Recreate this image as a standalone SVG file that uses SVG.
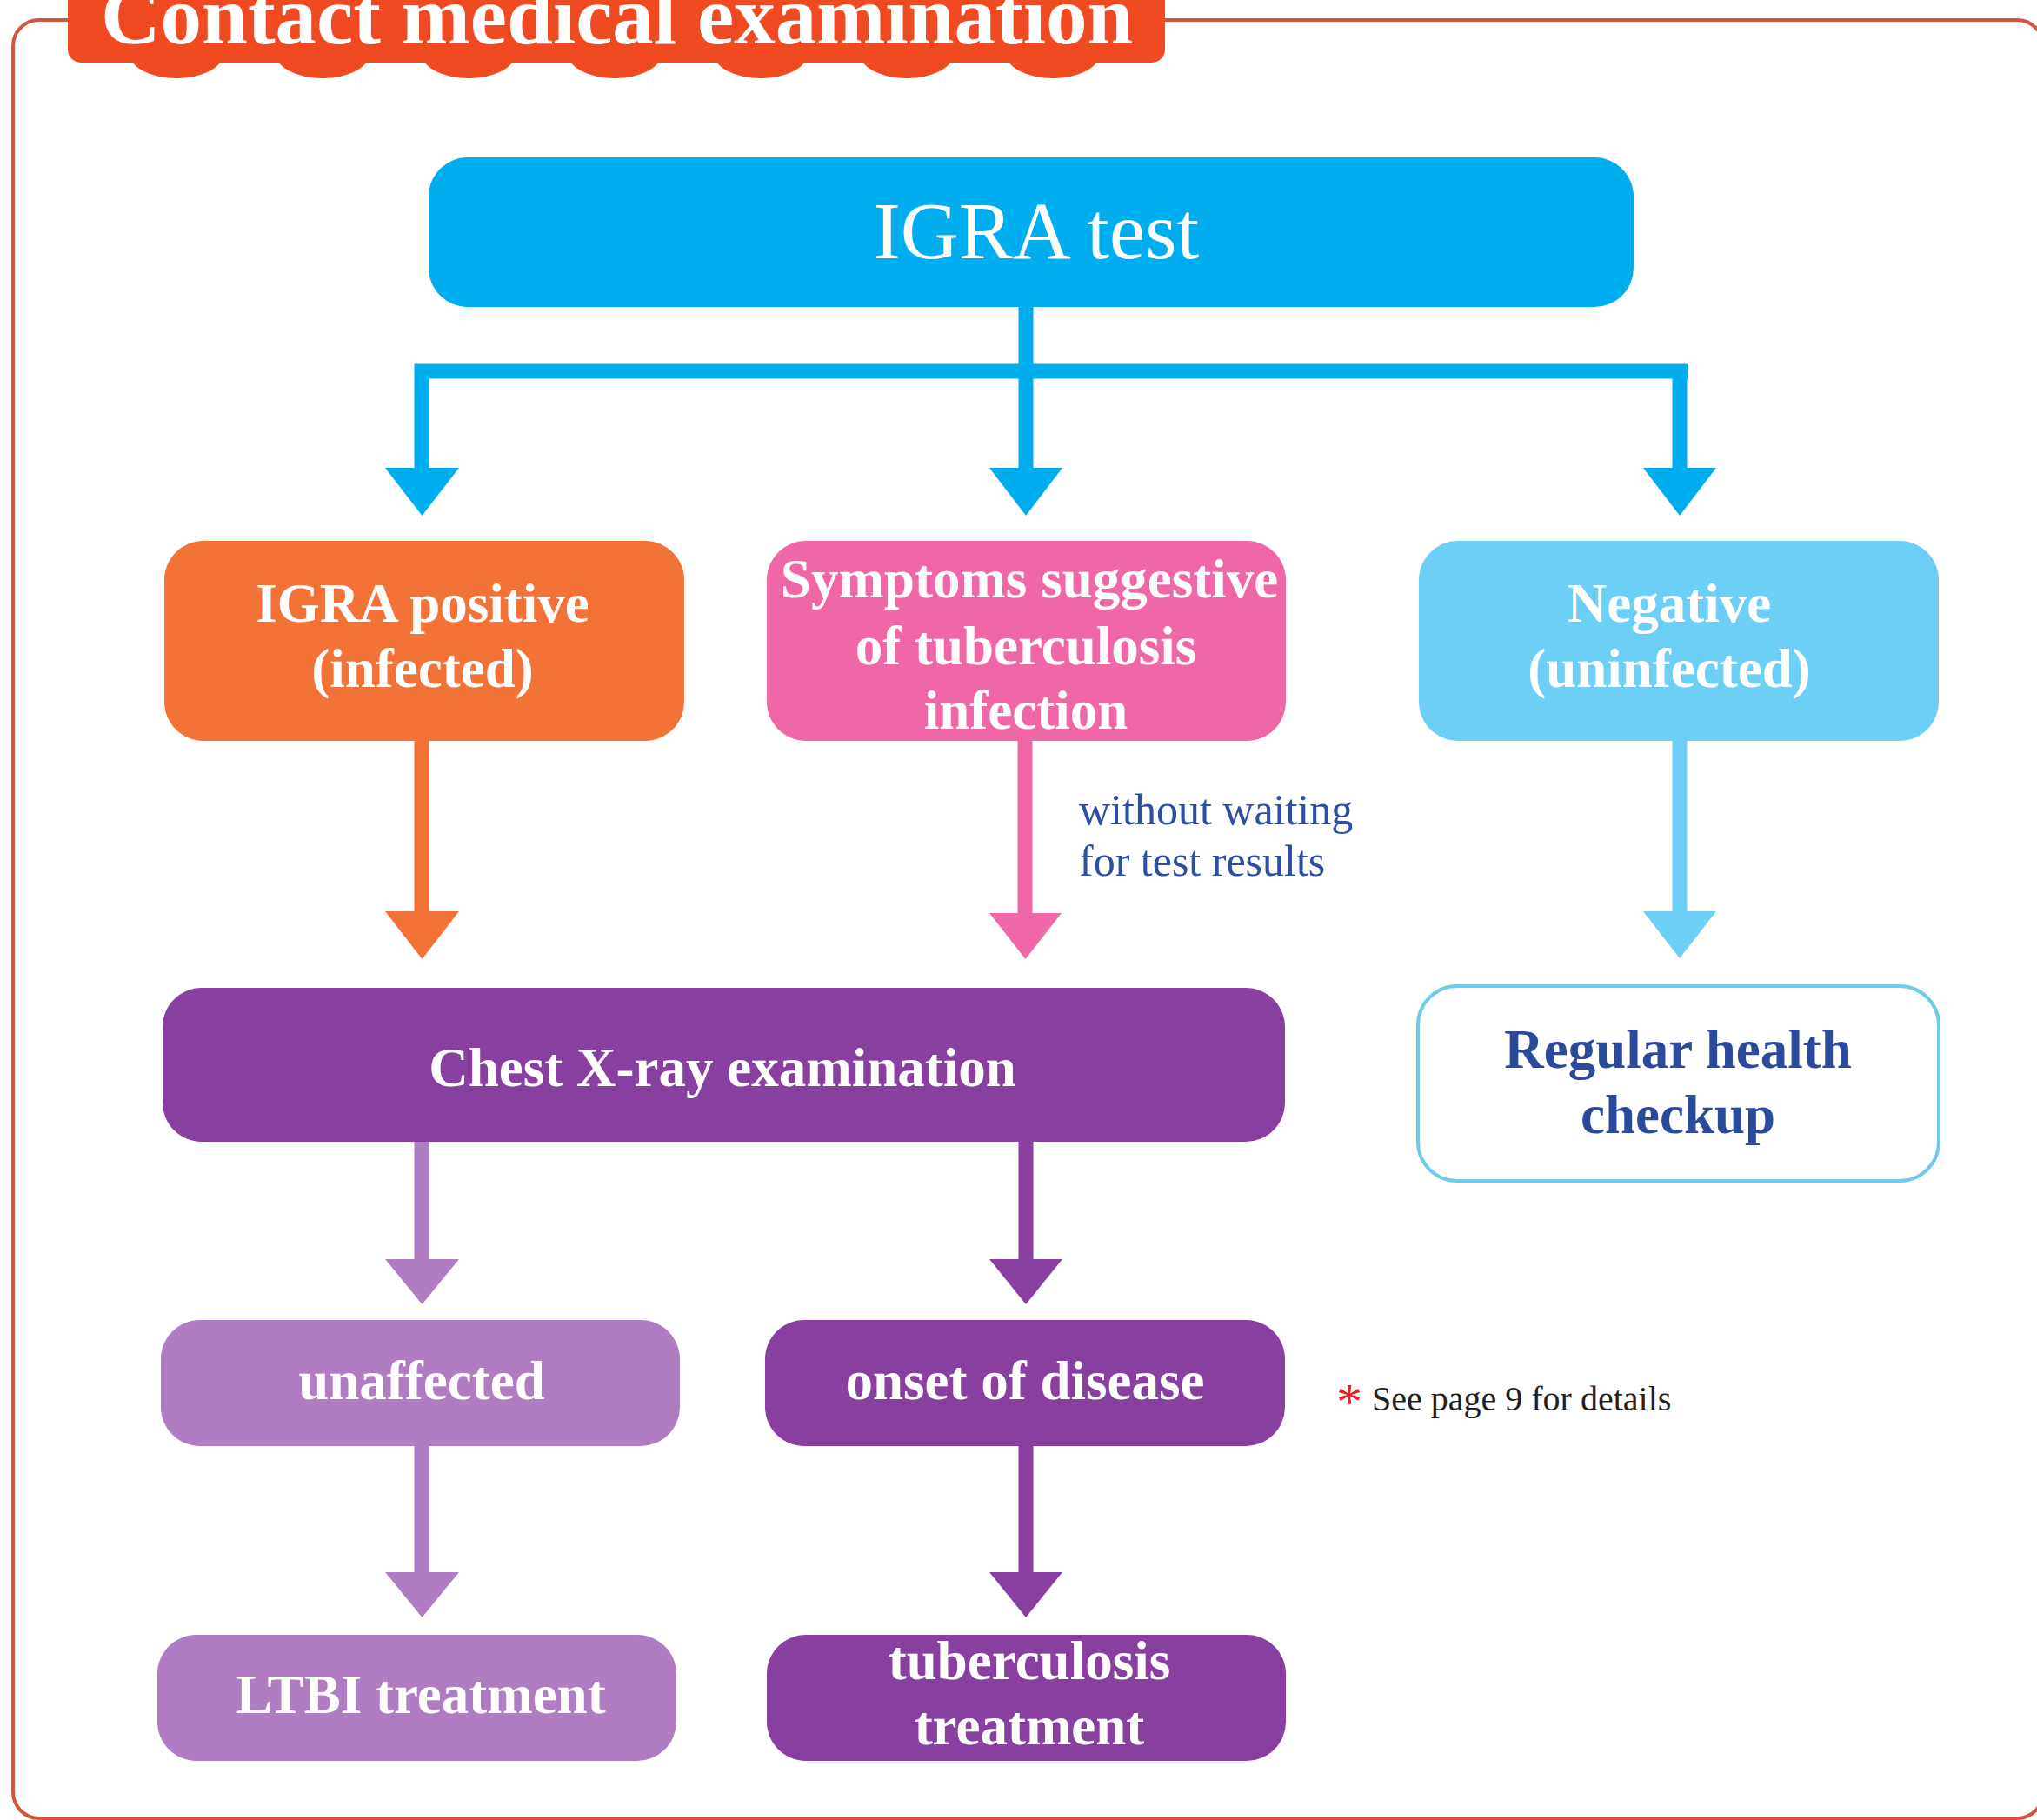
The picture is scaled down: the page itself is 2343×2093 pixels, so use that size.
<svg xmlns="http://www.w3.org/2000/svg" width="2343" height="2093" viewBox="0 0 2343 2093">
<style>
.t{font-family:"Liberation Serif","Times New Roman",serif;}
.b{font-weight:bold;fill:#ffffff;font-size:63px;text-anchor:middle;}
.ln{fill:none;stroke-width:17;}
.blue{fill:#00aeef;}
.orange{fill:#f37238;}
.pink{fill:#f067a7;}
.lblue{fill:#6dcff6;}
.purple{fill:#883f9f;}
.lpurple{fill:#b07cc4;}
</style>
<rect width="2343" height="2093" fill="#ffffff"/>
<g id="frame">
<rect x="15" y="23" width="2335" height="2068" rx="30" ry="30" fill="none" stroke="#d4543c" stroke-width="4"/>
</g>
<g id="banner">
<g fill="#f04a23">
<ellipse cx="203" cy="60" rx="55" ry="30"/>
<ellipse cx="371" cy="60" rx="55" ry="30"/>
<ellipse cx="539" cy="60" rx="55" ry="30"/>
<ellipse cx="707" cy="60" rx="55" ry="30"/>
<ellipse cx="875" cy="60" rx="55" ry="30"/>
<ellipse cx="1043" cy="60" rx="55" ry="30"/>
<ellipse cx="1211" cy="60" rx="55" ry="30"/>
<rect x="78" y="-40" width="1262" height="112" rx="15" ry="15"/>
</g>
<text class="t" x="116" y="50" font-size="95" font-weight="bold" fill="#ffffff">Contact medical examination</text>
</g>
<g id="connectors">
<path class="ln" stroke="#00aeef" d="M1180 350 V427 M477 427 H1941 M485 418.5 V540 M1180 427 V540 M1932 418.5 V540"/>
<polygon class="blue" points="443,538 528,538 485.5,593"/>
<polygon class="blue" points="1138,538 1222,538 1180,593"/>
<polygon class="blue" points="1890,538 1974,538 1932,593"/>
<path class="ln" stroke="#f37238" d="M485 850 V1050"/>
<polygon class="orange" points="443,1048 528,1048 485.5,1103"/>
<path class="ln" stroke="#f067a7" d="M1179 850 V1052"/>
<polygon class="pink" points="1138,1050 1221,1050 1179.5,1103"/>
<path class="ln" stroke="#6dcff6" d="M1932 850 V1050"/>
<polygon class="lblue" points="1890,1048 1974,1048 1932,1102"/>
<path class="ln" stroke="#b07cc4" d="M485 1310 V1450"/>
<polygon class="lpurple" points="443,1448 528,1448 485.5,1500"/>
<path class="ln" stroke="#883f9f" d="M1180 1310 V1450"/>
<polygon class="purple" points="1138,1448 1222,1448 1180,1500"/>
<path class="ln" stroke="#b07cc4" d="M485 1660 V1810"/>
<polygon class="lpurple" points="443,1808 528,1808 485.5,1860"/>
<path class="ln" stroke="#883f9f" d="M1180 1660 V1810"/>
<polygon class="purple" points="1138,1808 1222,1808 1180,1860"/>
<text class="t" x="1241" y="948" font-size="50" fill="#2c4ea3">without waiting</text>
<text class="t" x="1241" y="1007" font-size="50" fill="#2c4ea3">for test results</text>
</g>
<g id="igra-test">
<rect class="blue" x="493" y="181" width="1386" height="172" rx="45" ry="45"/>
<text class="t" x="1192" y="297" font-size="93" fill="#ffffff" text-anchor="middle">IGRA test</text>
</g>
<g id="igra-positive">
<rect class="orange" x="189" y="622" width="598" height="230" rx="45" ry="45"/>
<text class="t b" x="486" y="715">IGRA positive</text>
<text class="t b" x="486" y="790">(infected)</text>
</g>
<g id="symptoms">
<rect class="pink" x="882" y="622" width="597" height="230" rx="45" ry="45"/>
<text class="t b" x="1184" y="687">Symptoms suggestive</text>
<text class="t b" x="1180" y="764">of tuberculosis</text>
<text class="t b" x="1180" y="838">infection</text>
</g>
<g id="negative">
<rect class="lblue" x="1632" y="622" width="598" height="230" rx="45" ry="45"/>
<text class="t b" x="1920" y="715">Negative</text>
<text class="t b" x="1920" y="790">(uninfected)</text>
</g>
<g id="chest-xray">
<rect class="purple" x="187" y="1136" width="1291" height="177" rx="45" ry="45"/>
<text class="t b" x="831" y="1249">Chest X-ray examination</text>
</g>
<g id="regular-checkup">
<rect x="1631" y="1134" width="599" height="224" rx="45" ry="45" fill="#ffffff" stroke="#6dcbee" stroke-width="4"/>
<text class="t b" x="1930" y="1228" fill="#2b4a9b" style="fill:#2b4a9b">Regular health</text>
<text class="t b" x="1930" y="1303" style="fill:#2b4a9b">checkup</text>
</g>
<g id="unaffected">
<rect class="lpurple" x="185" y="1518" width="597" height="145" rx="45" ry="45"/>
<text class="t b" x="485" y="1609">unaffected</text>
</g>
<g id="onset">
<rect class="purple" x="880" y="1518" width="598" height="145" rx="45" ry="45"/>
<text class="t b" x="1179" y="1609">onset of disease</text>
</g>
<g id="ltbi-treatment">
<rect class="lpurple" x="181" y="1880" width="597" height="145" rx="45" ry="45"/>
<text class="t b" x="484" y="1970">LTBI treatment</text>
</g>
<g id="tb-treatment">
<rect class="purple" x="882" y="1880" width="597" height="145" rx="45" ry="45"/>
<text class="t b" x="1184" y="1931">tuberculosis</text>
<text class="t b" x="1184" y="2006">treatment</text>
</g>
<g id="footnote">
<text class="t" x="1537" y="1632" font-size="60" fill="#ed1c24">*</text>
<text class="t" x="1578" y="1622" font-size="40" fill="#231f20">See page 9 for details</text>
</g>
</svg>
